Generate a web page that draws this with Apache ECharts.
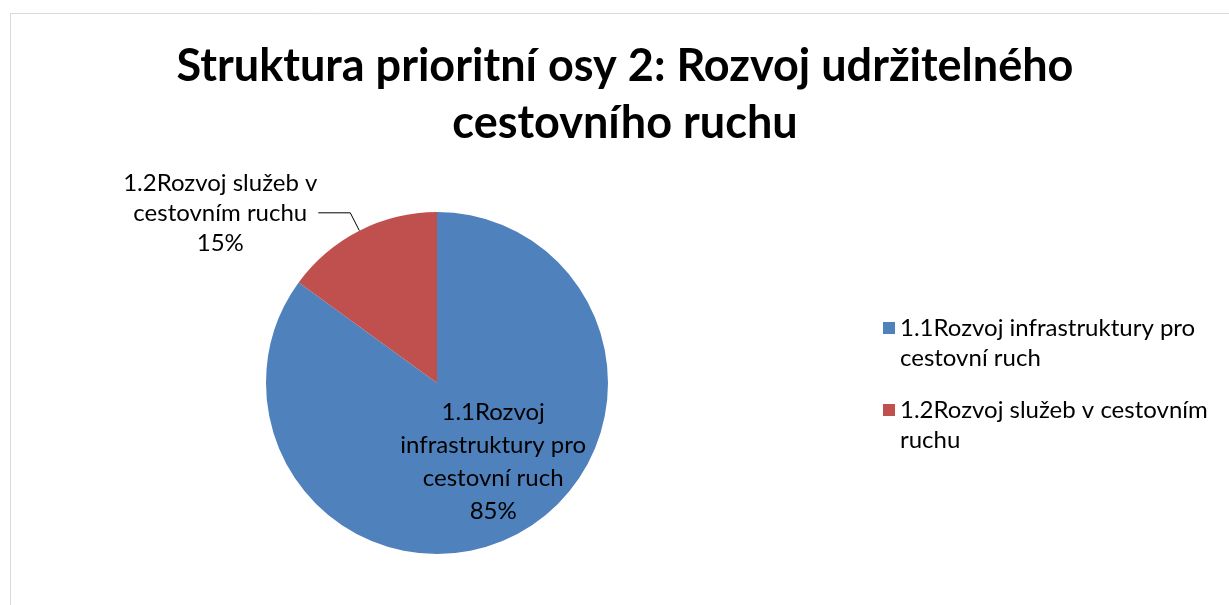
<!DOCTYPE html>
<html>
<head>
<meta charset="utf-8">
<title>Struktura prioritní osy 2</title>
<script src="https://cdn.jsdelivr.net/npm/echarts@6/dist/echarts.min.js"></script>
<style>
  html, body { margin: 0; padding: 0; background: #fff; }
  #chart { width: 1229px; height: 605px; }
</style>
</head>
<body>
<div id="chart"></div>
<script>
// data
const categories = ['1.1Rozvoj infrastruktury pro cestovní ruch', '1.2Rozvoj služeb v cestovním ruchu']
const legendLabels = ['1.1Rozvoj infrastruktury pro\ncestovní ruch', '1.2Rozvoj služeb v cestovním\nruchu']
const sliceLabels = ['1.1Rozvoj\ninfrastruktury pro\ncestovní ruch', '1.2Rozvoj služeb v\ncestovním ruchu']
const shares = [85, 15]
const colors = ['#4F81BD', '#C0504D']

const FONT = 'Lato, Calibri, "Noto Sans", sans-serif'

const chart = echarts.init(document.getElementById('chart'))

chart.setOption({
  animation: false,
  textStyle: { fontFamily: FONT },
  graphic: [
    {
      type: 'rect',
      shape: { x: 10.5, y: 13.5, width: 1300, height: 700 },
      style: { fill: 'none', stroke: '#d9d9d9', lineWidth: 1 },
      silent: true
    }
  ],
  title: {
    text: 'Struktura prioritní osy 2: Rozvoj udržitelného\ncestovního ruchu',
    left: 625,
    top: 38,
    textAlign: 'center',
    padding: 0,
    textStyle: {
      fontFamily: FONT,
      fontSize: 45,
      fontWeight: 'bold',
      color: '#000',
      lineHeight: 57
    }
  },
  legend: {
    orient: 'vertical',
    left: 883,
    top: 283,
    padding: 0,
    itemWidth: 12,
    itemHeight: 12,
    itemGap: -8,
    icon: 'rect',
    selectedMode: false,
    // empty first line keeps the marker level with the first text line
    formatter: name => '\n' + legendLabels[categories.indexOf(name)],
    textStyle: {
      fontFamily: FONT,
      fontSize: 24,
      color: '#000',
      lineHeight: 30
    },
    data: categories
  },
  series: [
    {
      type: 'pie',
      center: [437, 383],
      radius: 171,
      startAngle: 90,
      clockwise: true,
      avoidLabelOverlap: false,
      emphasis: { disabled: true },
      itemStyle: { borderWidth: 0 },
      labelLayout: p => (p.dataIndex === 0 ? { dx: 16 } : {}),
      data: categories.map((name, i) => ({
        name,
        value: shares[i],
        itemStyle: { color: colors[i] },
        label: i === 0
          ? {
              show: true,
              position: 'inside',
              formatter: p => sliceLabels[p.dataIndex] + '\n' + p.percent.toFixed(0) + '%',
              fontFamily: FONT,
              fontSize: 24,
              lineHeight: 33,
              color: '#000',
              textBorderWidth: 0
            }
          : {
              show: true,
              position: 'outside',
              distanceToLabelLine: 3,
              formatter: p => sliceLabels[p.dataIndex].split('\n')
                .concat([p.percent.toFixed(0) + '%'])
                .map(s => '{a|' + s + '}').join('\n'),
              rich: {
                a: {
                  fontFamily: FONT,
                  fontSize: 24,
                  lineHeight: 30,
                  color: '#000',
                  width: 190,
                  align: 'center'
                }
              }
            },
        labelLine: {
          show: i === 1,
          length: 20,
          length2: 32,
          lineStyle: { color: '#000', width: 1 }
        }
      }))
    }
  ]
})
</script>
</body>
</html>
